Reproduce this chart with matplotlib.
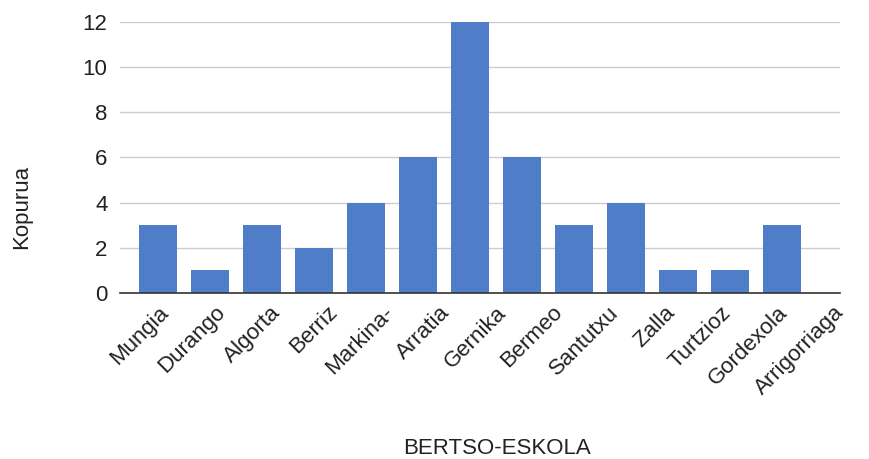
import matplotlib
matplotlib.use("Agg")
import matplotlib.pyplot as plt

# Data
schools = ["Mungia", "Durango", "Algorta", "Berriz", "Markina-", "Arratia", "Gernika",
           "Bermeo", "Santutxu", "Zalla", "Turtzioz", "Gordexola", "Arrigorriaga"]
counts = [3, 1, 3, 2, 4, 6, 12, 6, 3, 4, 1, 1, 3]
yticks = [0, 2, 4, 6, 8, 10, 12]

plt.rcParams["font.family"] = ["Liberation Sans", "DejaVu Sans"]

fig = plt.figure(figsize=(8.69, 4.59), dpi=100)
ax = fig.add_axes([0.138, 0.362, 0.829, 0.59])

xs = list(range(len(schools)))
ax.bar(xs, counts, width=0.73, color="#4f7dc7", zorder=3)

ax.set_ylim(0, 12)
ax.set_yticks(yticks)
ax.set_xlim(-0.73, len(schools) - 1 + 1.13)
ax.set_xticks(xs)
ax.set_xticklabels([])
ax.tick_params(axis="y", labelsize=16, length=0, pad=9, colors="#222222")
ax.tick_params(axis="x", length=0)

# the slanted category labels in the original are spaced a little wider
# than the bars, so they sit on their own twin axis
lab = ax.twiny()
lab.set_xlim(-0.81, 11.89)
lab.set_xticks(xs)
lab.set_xticklabels(schools, rotation=45, ha="right", va="center",
                    rotation_mode="anchor", fontsize=16, color="#222222")
lab.xaxis.set_ticks_position("bottom")
lab.tick_params(axis="x", length=0, pad=12)
for s in lab.spines.values():
    s.set_visible(False)

ax.grid(axis="y", color="#cccccc", linewidth=1, zorder=0)
for side in ["top", "right", "left"]:
    ax.spines[side].set_visible(False)
ax.spines["bottom"].set_color("#333333")
ax.spines["bottom"].set_linewidth(1.2)
ax.spines["bottom"].set_zorder(4)

fig.text(0.025, 0.549, "Kopurua", rotation=90, ha="center", va="center", fontsize=16, color="#222222")
fig.text(0.572, 0.022, "BERTSO-ESKOLA", ha="center", va="center", fontsize=16, color="#222222")

fig.savefig("out.png", dpi=100)
